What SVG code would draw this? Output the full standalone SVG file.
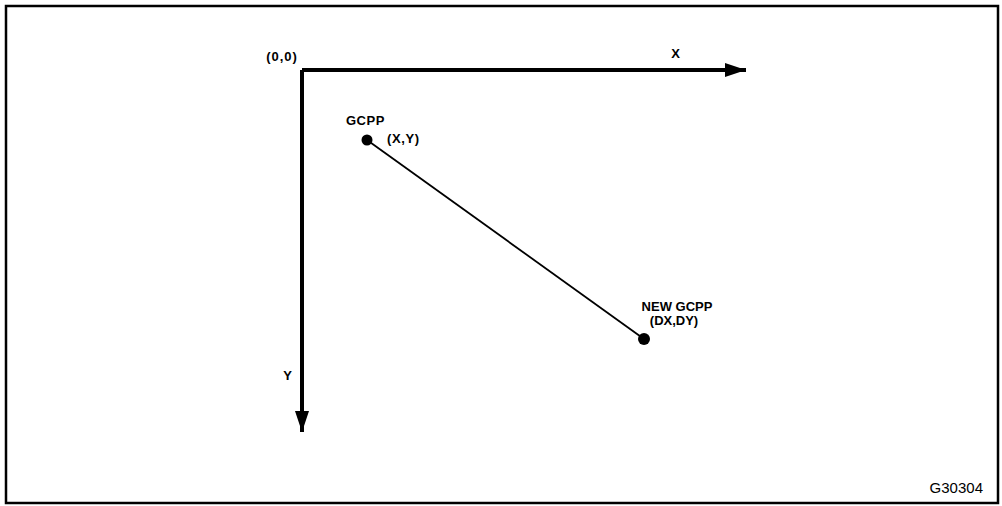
<svg xmlns="http://www.w3.org/2000/svg" width="1002" height="506" viewBox="0 0 1002 506">
<style>
text{font-family:"Liberation Sans",Arial,sans-serif;font-weight:bold;font-size:13px;fill:#000}
.axis{stroke:#000;stroke-width:4;fill:none}
.seg{stroke:#000;stroke-width:1.8;fill:none}
</style>
<defs>
<marker id="ah" markerUnits="userSpaceOnUse" markerWidth="24" markerHeight="18" refX="21" refY="7" orient="auto">
<path d="M0,0 L21,7 L0,14 Z" fill="#000"/>
</marker>
</defs>
<rect x="6" y="6" width="992" height="497" fill="none" stroke="#000" stroke-width="2.5"/>
<g id="connectors">
<path class="axis" d="M302,70 H746" marker-end="url(#ah)"/>
<path class="axis" d="M302,70 V432" marker-end="url(#ah)"/>
<line class="seg" x1="367" y1="140" x2="644" y2="339"/>
</g>
<g id="origin"><text x="282" y="61" text-anchor="middle" letter-spacing="1">(0,0)</text></g>
<g id="xlabel"><text x="675.5" y="58" text-anchor="middle">X</text></g>
<g id="ylabel"><text x="287.5" y="380" text-anchor="middle">Y</text></g>
<g id="gcpp">
<circle cx="367" cy="140" r="5.5" fill="#000"/>
<text x="365.5" y="125" text-anchor="middle" letter-spacing="0.6">GCPP</text>
<text x="387" y="143" letter-spacing="0.6">(X,Y)</text>
</g>
<g id="newgcpp">
<circle cx="644" cy="339" r="6" fill="#000"/>
<text x="677" y="311" text-anchor="middle" font-size="12.5">NEW GCPP</text>
<text x="674" y="325" text-anchor="middle" font-size="12.5">(DX,DY)</text>
</g>
<g id="figid"><text x="983" y="493" text-anchor="end" style="font-weight:normal;font-size:15px">G30304</text></g>
</svg>
